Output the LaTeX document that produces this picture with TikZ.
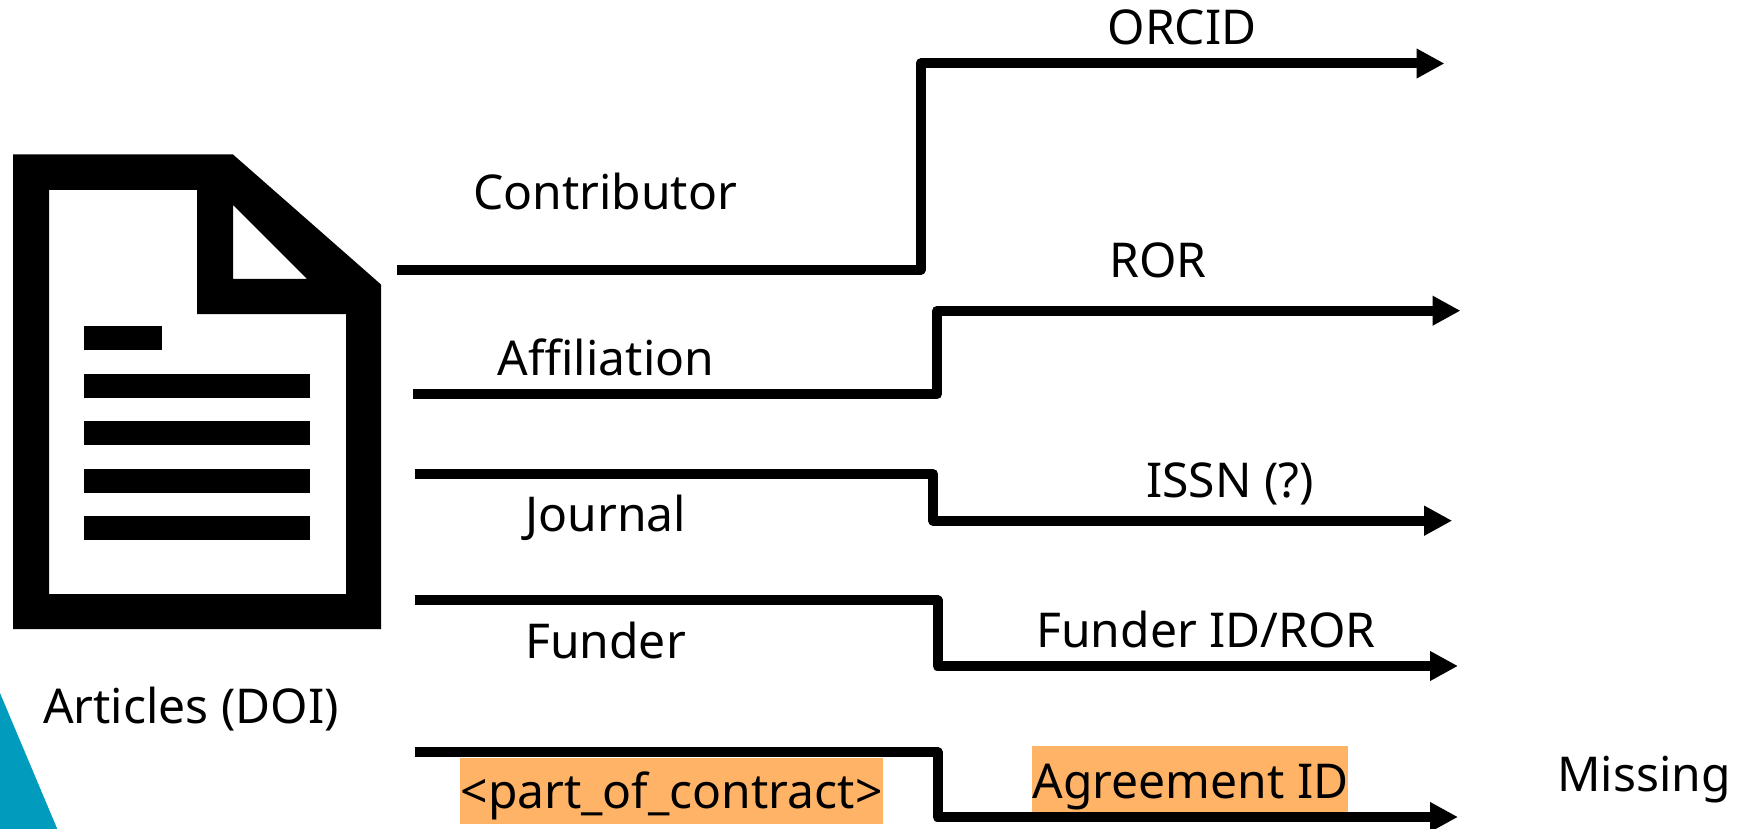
\documentclass[tikz,border=0pt]{standalone}
\usepackage{fontspec}
\setmainfont{Noto Sans}
\usetikzlibrary{arrows.meta}
\definecolor{tealc}{HTML}{009BBD}
\definecolor{orangec}{HTML}{FFB366}
\tikzset{
  lbl/.style={inner sep=0pt,outer sep=0pt,anchor=base,font=\fontsize{48}{58}\selectfont,text=black},
  wire/.style={line width=10pt,line join=round,draw=black,-{Triangle[length=28pt,width=28pt]}},
  hilite/.style={fill=orangec,draw=none},
  ink/.style={fill=black,draw=none}
}
\begin{document}
\begin{tikzpicture}[x=1pt,y=-1pt]
\useasboundingbox (0,0) rectangle (1741,829);
% teal corner
\fill[tealc] (0,693) -- (57.3,829) -- (0,829) -- cycle;
% document icon
\fill[ink,even odd rule] (13,154.5) -- (233,154.5) -- (381,284.5) -- (381,629) -- (13,629) -- cycle
  (49,190) -- (197,190) -- (197,314) -- (346,314) -- (346,594) -- (49,594) -- cycle
  (233,205) -- (307,279) -- (233,279) -- cycle;
\fill[ink] (84,326) rectangle (162,350);
\fill[ink] (84,374) rectangle (310,398);
\fill[ink] (84,421) rectangle (310,445);
\fill[ink] (84,469) rectangle (310,493);
\fill[ink] (84,516) rectangle (310,540);
% highlights
\fill[hilite] (460,758) rectangle (883,823.7);
\fill[hilite] (1032,746) rectangle (1348,812);
% connector ends
\coordinate (s1) at (397,270);   \coordinate (e1) at (1444.5,63.5);
\coordinate (s2) at (413,394.3); \coordinate (e2) at (1460.5,310.7);
\coordinate (s3) at (415,474);   \coordinate (e3) at (1452.2,520.7);
\coordinate (s4) at (415,600.3); \coordinate (e4) at (1458,666);
\coordinate (s5) at (415,752);   \coordinate (e5) at (1458,817);
\draw[wire] (s1) -- (920.6,270) -- (920.6,63.5) -- (e1);
\draw[wire] (s2) -- (937,394.3) -- (937,310.7) -- (e2);
\draw[wire] (s3) -- (933,474) -- (933,520.7) -- (e3);
\draw[wire] (s4) -- (937.5,600.3) -- (937.5,666) -- (e4);
\draw[wire] (s5) -- (937.5,752) -- (937.5,817) -- (e5);
% labels
\node[lbl] (orcid) at (1182,45) {ORCID};
\node[lbl] (ror) at (1158,277.5) {ROR};
\node[lbl] (issn) at (1230,497.7) {ISSN (?)};
\node[lbl] (fid) at (1206,647.7) {Funder ID/ROR};
\node[lbl] (agr) at (1190.7,798) {Agreement ID};
\node[lbl] (mis) at (1644,791) {Missing};
\node[lbl] (con) at (605,209.5) {Contributor};
\node[lbl] (aff) at (606,375.5) {Affiliation};
\node[lbl] (jou) at (606,531.7) {Journal};
\node[lbl] (fun) at (605.5,658.7) {Funder};
\node[lbl] (poc) at (671.5,808.7) {<part\_of\_contract>};
\node[lbl] (art) at (191,723.7) {Articles (DOI)};
\end{tikzpicture}
\end{document}
